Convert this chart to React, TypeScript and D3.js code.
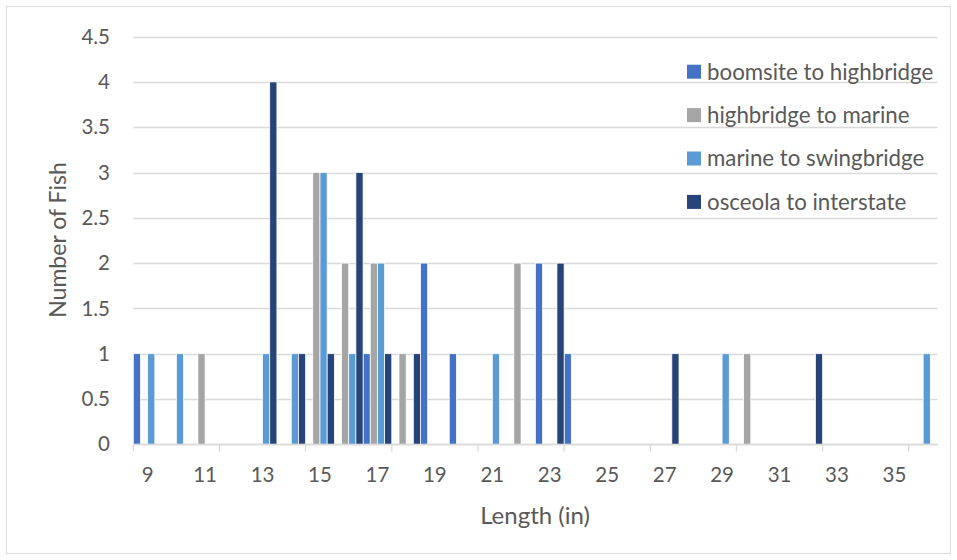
import * as d3 from "d3";
import { useEffect, useRef } from "react";

const lengths = [9, 10, 11, 12, 13, 14, 15, 16, 17, 18, 19, 20, 21, 22, 23, 24, 25, 26, 27, 28, 29, 30, 31, 32, 33, 34, 35, 36];
const seriesNames = ["boomsite to highbridge", "highbridge to marine", "marine to swingbridge", "osceola to interstate"];
const colors = ["#4472C4", "#A5A5A5", "#5B9BD5", "#264478"];

const boomsite = [1, 0, 0, 0, 0, 0, 0, 0, 1, 0, 2, 1, 0, 0, 2, 1, 0, 0, 0, 0, 0, 0, 0, 0, 0, 0, 0, 0];
const highbridge = [0, 0, 1, 0, 0, 0, 3, 2, 2, 1, 0, 0, 0, 2, 0, 0, 0, 0, 0, 0, 0, 1, 0, 0, 0, 0, 0, 0];
const marine = [1, 1, 0, 0, 1, 1, 3, 1, 2, 0, 0, 0, 1, 0, 0, 0, 0, 0, 0, 0, 1, 0, 0, 0, 0, 0, 0, 1];
const osceola = [0, 0, 0, 0, 4, 1, 1, 3, 1, 1, 0, 0, 0, 0, 2, 0, 0, 0, 1, 0, 0, 0, 0, 1, 0, 0, 0, 0];

const yTicks = [0, 0.5, 1, 1.5, 2, 2.5, 3, 3.5, 4, 4.5];

const width = 957;
const height = 560;
const font = "Lato, 'Open Sans', sans-serif";
const textColor = "#595959";
const gridColor = "#D9D9D9";

export default function App() {
  const svgRef = useRef(null);

  useEffect(() => {
    const svg = d3.select(svgRef.current);
    svg.selectAll("*").remove();

    const margin = { top: 36.6, right: 20, bottom: 115.7, left: 133.3 };
    const plotRight = 937.5;

    svg
      .append("rect")
      .attr("x", 6.5)
      .attr("y", 6.5)
      .attr("width", 944)
      .attr("height", 547)
      .attr("fill", "#fff")
      .attr("stroke", gridColor);

    const x = d3
      .scaleBand<number>()
      .domain(lengths)
      .range([margin.left, plotRight])
      .padding(0);

    const xs = d3
      .scaleBand<number>()
      .domain(d3.range(seriesNames.length))
      .range([0, x.bandwidth()])
      .padding(0);

    const y = d3
      .scaleLinear()
      .domain([0, 4.5])
      .range([height - margin.bottom, margin.top]);

    // gridlines
    svg
      .append("g")
      .selectAll("line")
      .data(yTicks)
      .join("line")
      .attr("x1", margin.left)
      .attr("x2", plotRight)
      .attr("y1", (d) => Math.round(y(d)) + 0.5)
      .attr("y2", (d) => Math.round(y(d)) + 0.5)
      .attr("stroke", gridColor)
      .attr("stroke-width", 1.3);

    // y labels
    svg
      .append("g")
      .selectAll("text")
      .data(yTicks)
      .join("text")
      .attr("x", 110)
      .attr("y", (d) => y(d))
      .attr("dy", "0.35em")
      .attr("text-anchor", "end")
      .attr("font-family", font)
      .attr("font-size", 20.5)
      .attr("fill", textColor)
      .text((d) => String(d));

    // bars
    const allSeries = [boomsite, highbridge, marine, osceola];
    allSeries.forEach((vals, s) => {
      svg
        .append("g")
        .selectAll("rect")
        .data(vals.map((v, i) => ({ len: lengths[i], v })).filter((d) => d.v > 0))
        .join("rect")
        .attr("x", (d) => (x(d.len) as number) + (xs(s) as number))
        .attr("y", (d) => y(d.v))
        .attr("width", xs.bandwidth())
        .attr("height", (d) => y(0) - y(d.v))
        .attr("fill", colors[s])
        .attr("stroke", "#fff")
        .attr("stroke-width", 0.75);
    });

    // x axis
    const axisY = Math.round(y(0)) + 0.5;
    svg
      .append("line")
      .attr("x1", margin.left)
      .attr("x2", plotRight)
      .attr("y1", axisY)
      .attr("y2", axisY)
      .attr("stroke", gridColor)
      .attr("stroke-width", 1.3);

    const tickCats = lengths.filter((_, i) => i % 3 === 0);
    svg
      .append("g")
      .selectAll("line")
      .data(tickCats)
      .join("line")
      .attr("x1", (d) => x(d) as number)
      .attr("x2", (d) => x(d) as number)
      .attr("y1", axisY)
      .attr("y2", axisY + 7)
      .attr("stroke", gridColor)
      .attr("stroke-width", 1.3);

    const labelCats = lengths.filter((_, i) => i % 2 === 0);
    svg
      .append("g")
      .selectAll("text")
      .data(labelCats)
      .join("text")
      .attr("x", (d) => (x(d) as number) + x.bandwidth() / 2)
      .attr("y", 475)
      .attr("dy", "0.35em")
      .attr("text-anchor", "middle")
      .attr("font-family", font)
      .attr("font-size", 20.5)
      .attr("fill", textColor)
      .text((d) => String(d));

    // axis titles
    svg
      .append("text")
      .attr("x", 535)
      .attr("y", 516)
      .attr("dy", "0.35em")
      .attr("text-anchor", "middle")
      .attr("font-family", font)
      .attr("font-size", 24)
      .attr("fill", textColor)
      .text("Length (in)");

    svg
      .append("text")
      .attr("transform", "translate(58,240) rotate(-90)")
      .attr("dy", "0.35em")
      .attr("text-anchor", "middle")
      .attr("font-family", font)
      .attr("font-size", 23)
      .attr("fill", textColor)
      .text("Number of Fish");

    // legend
    const legend = svg
      .append("g")
      .selectAll("g")
      .data(seriesNames)
      .join("g")
      .attr("transform", (_, i) => `translate(687,${71.7 + i * 43.4})`);
    legend
      .append("rect")
      .attr("x", 0)
      .attr("y", -7)
      .attr("width", 14)
      .attr("height", 14)
      .attr("fill", (_, i) => colors[i]);
    legend
      .append("text")
      .attr("x", 20)
      .attr("y", 0)
      .attr("dy", "0.35em")
      .attr("font-family", font)
      .attr("font-size", 22.3)
      .attr("fill", textColor)
      .text((d) => d);
  }, []);

  return (
    <svg
      ref={svgRef}
      width={width}
      height={height}
      style={{ position: "absolute", left: 0, top: 0 }}
    />
  );
}
